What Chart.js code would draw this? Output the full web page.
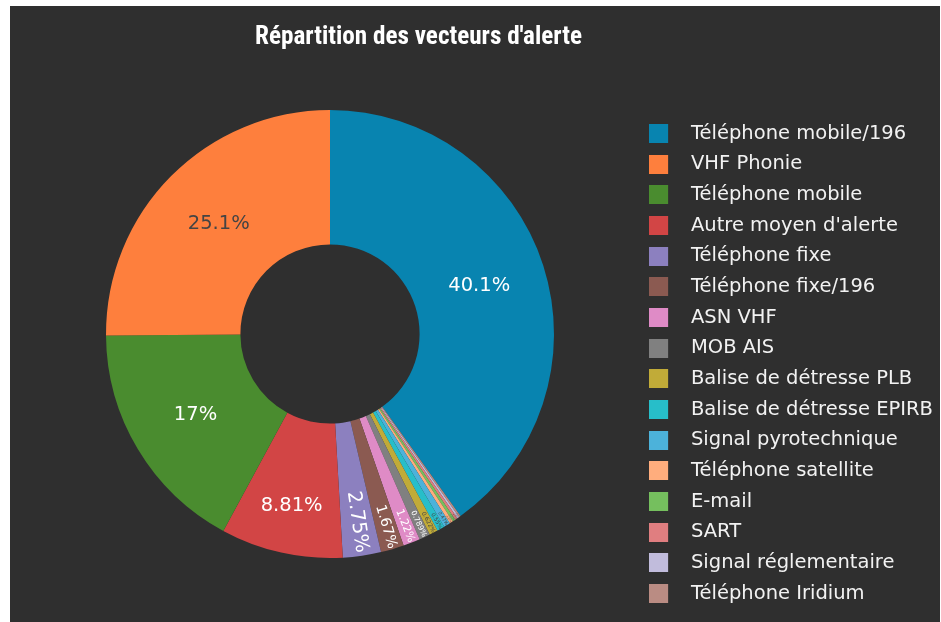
<!DOCTYPE html>
<html>
<head>
<meta charset="utf-8">
<title>Répartition des vecteurs d'alerte</title>
<script src="https://cdn.jsdelivr.net/npm/chart.js@4"></script>
<style>
  html, body { margin: 0; padding: 0; background: #fff; }
  #box { position: absolute; left: 10px; top: 6px; width: 930px; height: 616px; background: #2f2f2f; }
</style>
</head>
<body>
<div id="box"><canvas id="pie"></canvas></div>
<script>
const titleText = "Répartition des vecteurs d'alerte";

// legend order (largest first)
const categories = [
  "Téléphone mobile/196", "VHF Phonie", "Téléphone mobile", "Autre moyen d'alerte",
  "Téléphone fixe", "Téléphone fixe/196", "ASN VHF", "MOB AIS",
  "Balise de détresse PLB", "Balise de détresse EPIRB", "Signal pyrotechnique",
  "Téléphone satellite", "E-mail", "SART", "Signal réglementaire", "Téléphone Iridium"
];
// share of alerts, %
const values = [40.1, 25.1, 17.0, 8.81, 2.75, 1.67, 1.22, 0.789, 0.622, 0.55, 0.47, 0.25, 0.22, 0.18, 0.14, 0.13];

const colors = [
  "#0884b0", "#fe7f3d", "#4a8c2f", "#d24545", "#8c80bf", "#8b5a51", "#df8bc6", "#808080",
  "#c1ab38", "#27bec9", "#4cb2da", "#ffad7d", "#75bf5e", "#e07e80", "#c1bcdc", "#ba8c83"
];
const textColors = [
  "#fff", "#444", "#fff", "#fff", "#fff", "#fff", "#fff", "#fff",
  "#444", "#444", "#444", "#444", "#444", "#444", "#444", "#444"
];

// the slices run counter-clockwise in the original, chart.js goes clockwise:
// keep the big one first, then walk the rest backwards
const drawOrder = [0, 15, 14, 13, 12, 11, 10, 9, 8, 7, 6, 5, 4, 3, 2, 1];

const FONT = 19.5;
const TEXTPAD = 3;

function pctText(p) {
  let s = (p * 100).toPrecision(3);
  if (s.indexOf('.') !== -1) s = s.replace(/[.]?0+$/, '');
  return s + '%';
}

function maxHalfSize(a, half, r, ring) {
  const q = a + 1 / (2 * Math.tan(half));
  return r * Math.min(1 / (Math.sqrt(q * q + 0.5) + q), ring / (Math.sqrt(a * a + ring / 2) + a));
}

// keep text from reading upside down
function upright(a) {
  let r = a % (2 * Math.PI);
  if (r > Math.PI) r -= 2 * Math.PI;
  if (r < -Math.PI) r += 2 * Math.PI;
  if (r > Math.PI / 2) r -= Math.PI;
  if (r < -Math.PI / 2) r += Math.PI;
  return r;
}

// percent labels inside the slices, horizontal if they fit, else radial/tangential and shrunk
const sliceLabels = {
  id: 'sliceLabels',
  afterDatasetsDraw(chart) {
    const ctx = chart.ctx;
    const meta = chart.getDatasetMeta(0);
    const data = chart.data.datasets[0].data;
    const total = data.reduce((s, v) => s + v, 0);
    meta.data.forEach((arc, i) => {
      const p = arc.getProps(['x', 'y', 'startAngle', 'endAngle', 'innerRadius', 'outerRadius'], true);
      const text = pctText(data[i] / total);
      const R = p.outerRadius;
      const ring = 1 - p.innerRadius / R;
      const half = Math.min((p.endAngle - p.startAngle) / 2, Math.PI / 2);
      const mid = (p.startAngle + p.endAngle) / 2;
      ctx.font = FONT + 'px "DejaVu Sans"';
      const w = ctx.measureText(text).width;
      const h = FONT * 1.28;

      const rIns = Math.min(1 / (1 + 1 / Math.sin(Math.min(half, Math.PI / 3))), ring / 2);
      let t = { scale: rIns * R * 2 / Math.hypot(w, h), rCenter: 1 - rIns, rotate: 0 };
      if (t.scale < 1) {
        const r = Math.max(0, R - 2 * TEXTPAD);
        const aT = h / w;
        const sT = maxHalfSize(aT, half, r, ring);
        const tan = { scale: sT * 2 / w, rCenter: Math.cos(sT / r) - aT * sT / r, rotate: upright(mid + Math.PI / 2) };
        const aR = w / h;
        const sR = maxHalfSize(aR, half, r, ring);
        const rad = { scale: sR * 2 / h, rCenter: Math.cos(sR / r) - aR * sR / r, rotate: upright(mid) };
        [tan, rad].forEach(c => { if (c.scale > t.scale) t = c; });
      }
      const size = FONT * Math.min(1, t.scale);
      const cx = p.x + Math.cos(mid) * R * t.rCenter;
      const cy = p.y + Math.sin(mid) * R * t.rCenter;

      ctx.save();
      ctx.translate(cx, cy);
      ctx.rotate(t.rotate);
      ctx.font = size + 'px "DejaVu Sans"';
      ctx.fillStyle = textColors[drawOrder[i]];
      ctx.textAlign = 'center';
      ctx.textBaseline = 'middle';
      ctx.fillText(text, 0, 0);
      ctx.restore();
    });
  }
};

// condensed bold title; squeeze Roboto if no condensed face is around
const pieTitle = {
  id: 'pieTitle',
  afterDraw(chart) {
    const ctx = chart.ctx;
    ctx.save();
    ctx.font = 'bold 26px "Roboto Condensed", Roboto, sans-serif';
    const w = ctx.measureText(titleText).width;
    const sx = Math.min(1, 327 / w);
    ctx.translate(408.5, 38);
    ctx.scale(sx, 1);
    ctx.fillStyle = '#ffffff';
    ctx.textAlign = 'center';
    ctx.textBaseline = 'alphabetic';
    ctx.fillText(titleText, 0, 0);
    ctx.restore();
  }
};

// square swatch with room on its right, so the text sits further from it
function swatch(color) {
  const c = document.createElement('canvas');
  c.width = 32;
  c.height = 19;
  const g = c.getContext('2d');
  g.fillStyle = color;
  g.fillRect(0, 0, 19, 19);
  return c;
}
const swatches = colors.map(swatch);

new Chart(document.getElementById('pie'), {
  type: 'doughnut',
  data: {
    labels: drawOrder.map(i => categories[i]),
    datasets: [{
      data: drawOrder.map(i => values[i]),
      backgroundColor: drawOrder.map(i => colors[i]),
      borderWidth: 0,
      clip: false
    }]
  },
  options: {
    responsive: true,
    maintainAspectRatio: false,
    animation: false,
    events: [],
    radius: 224,
    cutout: '40%',
    layout: { padding: { top: 47.55, bottom: 7.55, left: 12.2, right: 0 } },
    plugins: {
      tooltip: { enabled: false },
      legend: {
        position: 'right',
        align: 'end',
        maxWidth: 302.2,
        labels: {
          color: '#f2f2f2',
          font: { family: '"DejaVu Sans"', size: FONT },
          padding: 11.17,
          usePointStyle: true,
          pointStyleWidth: 32.25,
          generateLabels(chart) {
            const items = Chart.overrides.doughnut.plugins.legend.labels.generateLabels(chart);
            items.forEach(it => { it.pointStyle = swatches[drawOrder[it.index]]; });
            return items;
          },
          sort: (a, b) => drawOrder[a.index] - drawOrder[b.index]
        }
      }
    }
  },
  plugins: [sliceLabels, pieTitle]
});
</script>
</body>
</html>
